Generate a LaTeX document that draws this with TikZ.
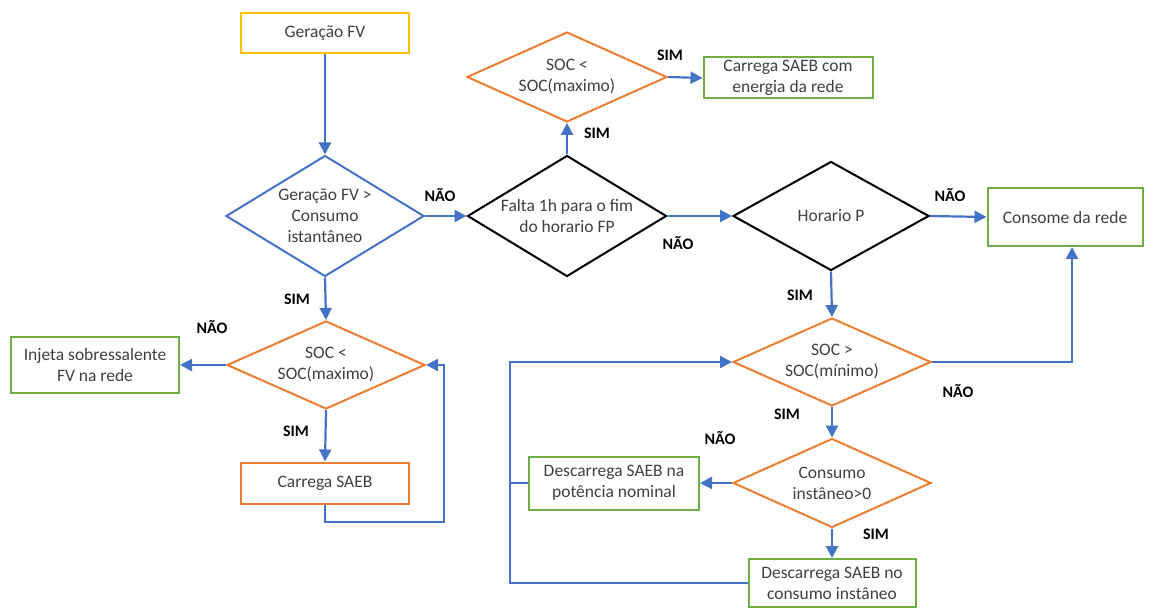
\documentclass[tikz,border=0pt]{standalone}
\usepackage{fontspec}
\setmainfont{Carlito}
\usetikzlibrary{shapes.geometric, arrows.meta}
\definecolor{azul}{HTML}{4472C4}
\definecolor{laranja}{HTML}{ED7D31}
\definecolor{verde}{HTML}{70AD47}
\definecolor{amarelo}{HTML}{FFC000}
\definecolor{texto}{HTML}{404040}

\begin{document}
\begin{tikzpicture}[x=1pt, y=-1pt,
	caixa/.style={draw=#1, line width=2pt, rectangle, text=texto, align=center, inner sep=0pt, font=\fontsize{17.5}{21}\selectfont},
	decisao/.style={draw=#1, line width=2pt, diamond, text=texto, align=center, inner sep=0pt, font=\fontsize{17.5}{21}\selectfont},
	seta/.style={azul, line width=2.2pt, arrows={-{Triangle[length=12pt,width=12pt]}}},
	linha/.style={azul, line width=2.2pt},
	rotulo/.style={font=\bfseries\fontsize{16}{19}\selectfont}]
	\path [use as bounding box] (0,0) rectangle (1155,609);
	% blocos
	\node (gen) at (325,33) [caixa=amarelo, minimum width=168pt, minimum height=40pt] {Geração FV};
	\node (d1) at (325,216) [decisao=azul, aspect=1.64, minimum width=198pt, minimum height=121pt] {Geração FV >\\Consumo\\istantâneo};
	\node (d2) at (567,216) [decisao=black, aspect=1.64, minimum width=199pt, minimum height=121pt] {Falta 1h para o fim\\do horario FP};
	\node (d3) at (567,77) [decisao=laranja, aspect=2.22, minimum width=200pt, minimum height=90pt] {SOC <\\SOC(maximo)};
	\node (rede) at (788,78) [caixa=verde, minimum width=169pt, minimum height=41pt] {Carrega SAEB com\\energia da rede};
	\node (d4) at (831,216) [decisao=black, aspect=1.8, minimum width=196pt, minimum height=109pt] {Horario P};
	\node (consome) at (1065,217) [caixa=verde, minimum width=155pt, minimum height=58pt] {Consome da rede};
	\node (d5) at (326,365) [decisao=laranja, aspect=2.25, minimum width=198pt, minimum height=88pt] {SOC <\\SOC(maximo)};
	\node (injeta) at (95,365) [caixa=verde, minimum width=168pt, minimum height=56pt] {Injeta sobressalente\\FV na rede};
	\node (carrega) at (325,483) [caixa=laranja, minimum width=168pt, minimum height=41pt] {Carrega SAEB};
	\node (d6) at (832,362) [decisao=laranja, aspect=2.25, minimum width=198pt, minimum height=88pt] {SOC >\\SOC(mínimo)};
	\node (d7) at (832,483) [decisao=laranja, aspect=2.22, minimum width=198pt, minimum height=89pt] {Consumo\\instâneo>0};
	\node (nominal) at (614,483) [caixa=verde, minimum width=170pt, minimum height=53pt] {Descarrega SAEB na\\potência nominal};
	\node (instaneo) at (832,583) [caixa=verde, minimum width=167pt, minimum height=48pt] {Descarrega SAEB no\\consumo instâneo};
	\coordinate (voltaA) at (444,522);
	\coordinate (voltaB) at (510,583);
	% setas
	\draw [seta] (gen) -- (d1);
	\draw [seta] (d1.east) -- (d2.west);
	\draw [seta] (d2.north) -- (d3.south);
	\draw [seta] (d3.east) -- (rede.west);
	\draw [seta] (d2.east) -- (d4.west);
	\draw [seta] (d4.east) -- (consome.west);
	\draw [seta] (d1.south) -- (d5.north);
	\draw [seta] (d5.west) -- (injeta.east);
	\draw [seta] (d5.south) -- (carrega.north);
	\draw [seta] (carrega.south) |- (voltaA) |- (d5.east);
	\draw [seta] (d4.south) -- (d6.north);
	\draw [seta] (d6.east) -| ([xshift=7pt]consome.south);
	\draw [seta] (d6.south) -- (d7.north);
	\draw [seta] (d7.west) -- (nominal.east);
	\draw [seta] (d7.south) -- (instaneo.north);
	\draw [seta] (instaneo.west) -- (voltaB) |- (d6.west);
	\draw [linha] (nominal.west) -- (nominal.west -| voltaB);
	% rotulos
	\node (l1) at (440,195) [rotulo] {NÃO};
	\node (l2) at (297,299) [rotulo] {SIM};
	\node (l3) at (212,327) [rotulo] {NÃO};
	\node (l4) at (296,431) [rotulo] {SIM};
	\node (l5) at (597,133) [rotulo] {SIM};
	\node (l6) at (670,55) [rotulo] {SIM};
	\node (l7) at (678,243) [rotulo] {NÃO};
	\node (l8) at (950,195) [rotulo] {NÃO};
	\node (l9) at (800,295) [rotulo] {SIM};
	\node (l10) at (958,391) [rotulo] {NÃO};
	\node (l11) at (787,414) [rotulo] {SIM};
	\node (l12) at (720,438) [rotulo] {NÃO};
	\node (l13) at (876,534) [rotulo] {SIM};
\end{tikzpicture}
\end{document}
